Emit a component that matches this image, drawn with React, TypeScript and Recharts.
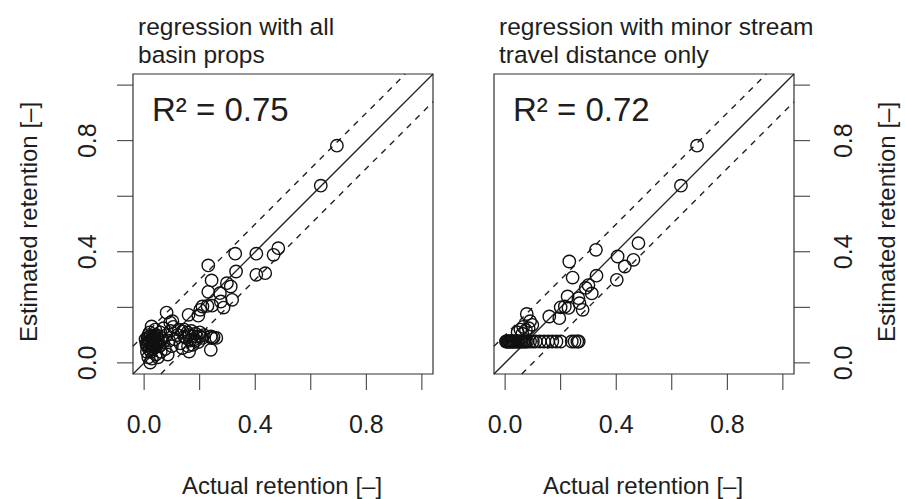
import React from 'react';
import { ScatterChart, Scatter, XAxis, YAxis, ReferenceArea, ReferenceLine } from 'recharts';

const LEFT_POINTS: [number, number][] = [
  [0.694, 0.782], [0.636, 0.638], [0.483, 0.413], [0.466, 0.389], [0.404, 0.393],
  [0.328, 0.393], [0.231, 0.351], [0.331, 0.329], [0.404, 0.317], [0.436, 0.323],
  [0.243, 0.297], [0.298, 0.287], [0.312, 0.275], [0.231, 0.256], [0.273, 0.251],
  [0.317, 0.227], [0.276, 0.221], [0.286, 0.199], [0.21, 0.203], [0.228, 0.205],
  [0.245, 0.206], [0.202, 0.191], [0.16, 0.173], [0.195, 0.17], [0.081, 0.181],
  [0.094, 0.145], [0.102, 0.15], [0.144, 0.12],
  [0.138, 0.113], [0.156, 0.11], [0.17, 0.115], [0.185, 0.105], [0.2, 0.11],
  [0.12, 0.1], [0.15, 0.09], [0.165, 0.08], [0.18, 0.085], [0.195, 0.075],
  [0.21, 0.09], [0.13, 0.07], [0.158, 0.06], [0.175, 0.065], [0.138, 0.053],
  [0.162, 0.041], [0.19, 0.095], [0.24, 0.095], [0.25, 0.092], [0.26, 0.09],
  [0.244, 0.089], [0.24, 0.047], [0.215, 0.1], [0.11, 0.085], [0.125, 0.12],
  [0.022, 0.001], [0.027, 0.131], [0.01, 0.06], [0.012, 0.09], [0.015, 0.075],
  [0.018, 0.05], [0.02, 0.11], [0.025, 0.04], [0.03, 0.065], [0.032, 0.095],
  [0.035, 0.08], [0.038, 0.055], [0.04, 0.12], [0.042, 0.03], [0.045, 0.1],
  [0.048, 0.07], [0.05, 0.085], [0.055, 0.06], [0.058, 0.11], [0.06, 0.04],
  [0.065, 0.09], [0.068, 0.075], [0.07, 0.125], [0.075, 0.05], [0.08, 0.1],
  [0.085, 0.03], [0.09, 0.08], [0.005, 0.085], [0.008, 0.07], [0.015, 0.02],
  [0.028, 0.015], [0.05, 0.02], [0.095, 0.115], [0.1, 0.06], [0.105, 0.13],
  [0.012, 0.065], [0.02, 0.08], [0.025, 0.07], [0.03, 0.05], [0.035, 0.09],
  [0.04, 0.075], [0.045, 0.06], [0.015, 0.1], [0.022, 0.095], [0.028, 0.085],
  [0.033, 0.06], [0.038, 0.1], [0.018, 0.07], [0.01, 0.04], [0.06, 0.08],
  [0.145, 0.095], [0.16, 0.1], [0.175, 0.095], [0.185, 0.08], [0.2, 0.095],
];

const RIGHT_POINTS: [number, number][] = [
  [0.691, 0.782], [0.633, 0.638], [0.48, 0.431], [0.462, 0.371], [0.431, 0.347],
  [0.405, 0.383], [0.402, 0.299], [0.327, 0.407], [0.231, 0.365], [0.329, 0.314],
  [0.243, 0.307], [0.3, 0.28], [0.29, 0.27], [0.312, 0.25], [0.225, 0.239],
  [0.264, 0.233], [0.279, 0.191], [0.268, 0.215], [0.2, 0.2], [0.215, 0.203],
  [0.228, 0.198], [0.195, 0.161], [0.159, 0.167], [0.078, 0.176], [0.09, 0.15],
  [0.098, 0.137], [0.065, 0.13], [0.055, 0.12], [0.045, 0.11], [0.075, 0.118],
  [0.085, 0.125], [0.062, 0.105],
  // flat band of basins with no minor stream travel distance
  [0.003, 0.077], [0.006, 0.077], [0.009, 0.077], [0.012, 0.077], [0.015, 0.077],
  [0.018, 0.077], [0.021, 0.077], [0.024, 0.077], [0.027, 0.077], [0.03, 0.077],
  [0.034, 0.077], [0.038, 0.077], [0.042, 0.077], [0.046, 0.077], [0.05, 0.077],
  [0.055, 0.077], [0.06, 0.077], [0.065, 0.077], [0.07, 0.077], [0.075, 0.077],
  [0.08, 0.077], [0.09, 0.077], [0.1, 0.077], [0.11, 0.077], [0.125, 0.077],
  [0.14, 0.077], [0.155, 0.077], [0.17, 0.077], [0.185, 0.077], [0.2, 0.077],
  [0.24, 0.077], [0.25, 0.077], [0.26, 0.077], [0.265, 0.077],
];

const TICKS = [0, 0.2, 0.4, 0.6, 0.8, 1.0];
const LABELLED = [0, 0.4, 0.8];
const LO = -0.04;
const HI = 1.04;
const BAND = 0.1;

const FONT = '"Liberation Sans", Arial, Helvetica, sans-serif';
const INK = '#1e1e1e';

const toRows = (pts: [number, number][]) => pts.map(([x, y]) => ({ x, y }));

const Ring = (props: any) => (
  <circle cx={props.cx} cy={props.cy} r={6.2} fill="none" stroke="#111" strokeWidth={1.4} />
);

const xTick = (p: any) =>
  LABELLED.includes(p.payload.value) ? (
    <text x={p.x} y={p.y + 43} textAnchor="middle" fontSize={25} fontFamily={FONT} fill={INK}>
      {p.payload.value.toFixed(1)}
    </text>
  ) : (
    <g />
  );

const yTick = (side: 'left' | 'right') => (p: any) =>
  LABELLED.includes(p.payload.value) ? (
    <text
      transform={`translate(${side === 'left' ? p.x - 21 : p.x + 42},${p.y}) rotate(-90)`}
      textAnchor="middle"
      fontSize={25}
      fontFamily={FONT}
      fill={INK}
    >
      {p.payload.value.toFixed(1)}
    </text>
  ) : (
    <g />
  );

interface PanelProps {
  points: [number, number][];
  title: [string, string];
  r2: string;
  side: 'left' | 'right';
}

const Panel: React.FC<PanelProps> = ({ points, title, r2, side }) => {
  const data = toRows(points);
  const isLeft = side === 'left';
  const w = isLeft ? 460 : 453;
  const plotLeft = isLeft ? 133 : 42;
  const margin = isLeft
    ? { top: 74, right: 27, bottom: 95, left: 103 }
    : { top: 74, right: 81, bottom: 95, left: 42 };
  const axisTitleX = isLeft ? 37 : 443;

  return (
    <ScatterChart width={w} height={499} margin={margin}>
      <XAxis
        type="number"
        dataKey="x"
        domain={[LO, HI]}
        ticks={TICKS}
        interval={0}
        allowDataOverflow
        height={30}
        axisLine={false}
        tickLine={{ stroke: '#333' }}
        tickSize={16}
        tickMargin={0}
        tick={xTick}
      />
      <YAxis
        type="number"
        dataKey="y"
        orientation={side}
        domain={[LO, HI]}
        ticks={TICKS}
        interval={0}
        allowDataOverflow
        width={30}
        axisLine={false}
        tickLine={{ stroke: '#333' }}
        tickSize={16}
        tickMargin={0}
        tick={yTick(side)}
      />
      <ReferenceArea x1={LO} x2={HI} y1={LO} y2={HI} fill="none" stroke="#333" strokeWidth={1.2} fillOpacity={0} />
      <ReferenceLine segment={[{ x: LO, y: LO }, { x: HI, y: HI }]} stroke="#222" strokeWidth={1.3} />
      <ReferenceLine
        segment={[{ x: LO, y: LO + BAND }, { x: HI - BAND, y: HI }]}
        stroke="#222"
        strokeWidth={1.4}
        strokeDasharray="6 6"
      />
      <ReferenceLine
        segment={[{ x: LO + BAND, y: LO }, { x: HI, y: HI - BAND }]}
        stroke="#222"
        strokeWidth={1.4}
        strokeDasharray="6 6"
      />
      <Scatter data={data} shape={Ring} isAnimationActive={false} />
      <text x={plotLeft + 5} y={35} fontSize={24.5} fontFamily={FONT} fill={INK}>
        {title[0]}
      </text>
      <text x={plotLeft + 5} y={63} fontSize={24.5} fontFamily={FONT} fill={INK}>
        {title[1]}
      </text>
      <text x={plotLeft + 19} y={121} fontSize={33} fontFamily={FONT} fill={INK}>
        {r2}
      </text>
      <text
        transform={`translate(${axisTitleX},222) rotate(-90)`}
        textAnchor="middle"
        fontSize={24}
        fontFamily={FONT}
        fill={INK}
      >
        Estimated retention [–]
      </text>
      <text x={plotLeft + 149} y={494} textAnchor="middle" fontSize={24} fontFamily={FONT} fill={INK}>
        Actual retention [–]
      </text>
    </ScatterChart>
  );
};

export default function App() {
  return (
    <div style={{ position: 'absolute', left: 0, top: 0, width: 905, height: 499, background: '#fff' }}>
      <div style={{ position: 'absolute', left: 0, top: 0 }}>
        <Panel points={LEFT_POINTS} title={['regression with all', 'basin props']} r2="R² = 0.75" side="left" />
      </div>
      <div style={{ position: 'absolute', left: 452, top: 0 }}>
        <Panel
          points={RIGHT_POINTS}
          title={['regression with minor stream', 'travel distance only']}
          r2="R² = 0.72"
          side="right"
        />
      </div>
    </div>
  );
}
